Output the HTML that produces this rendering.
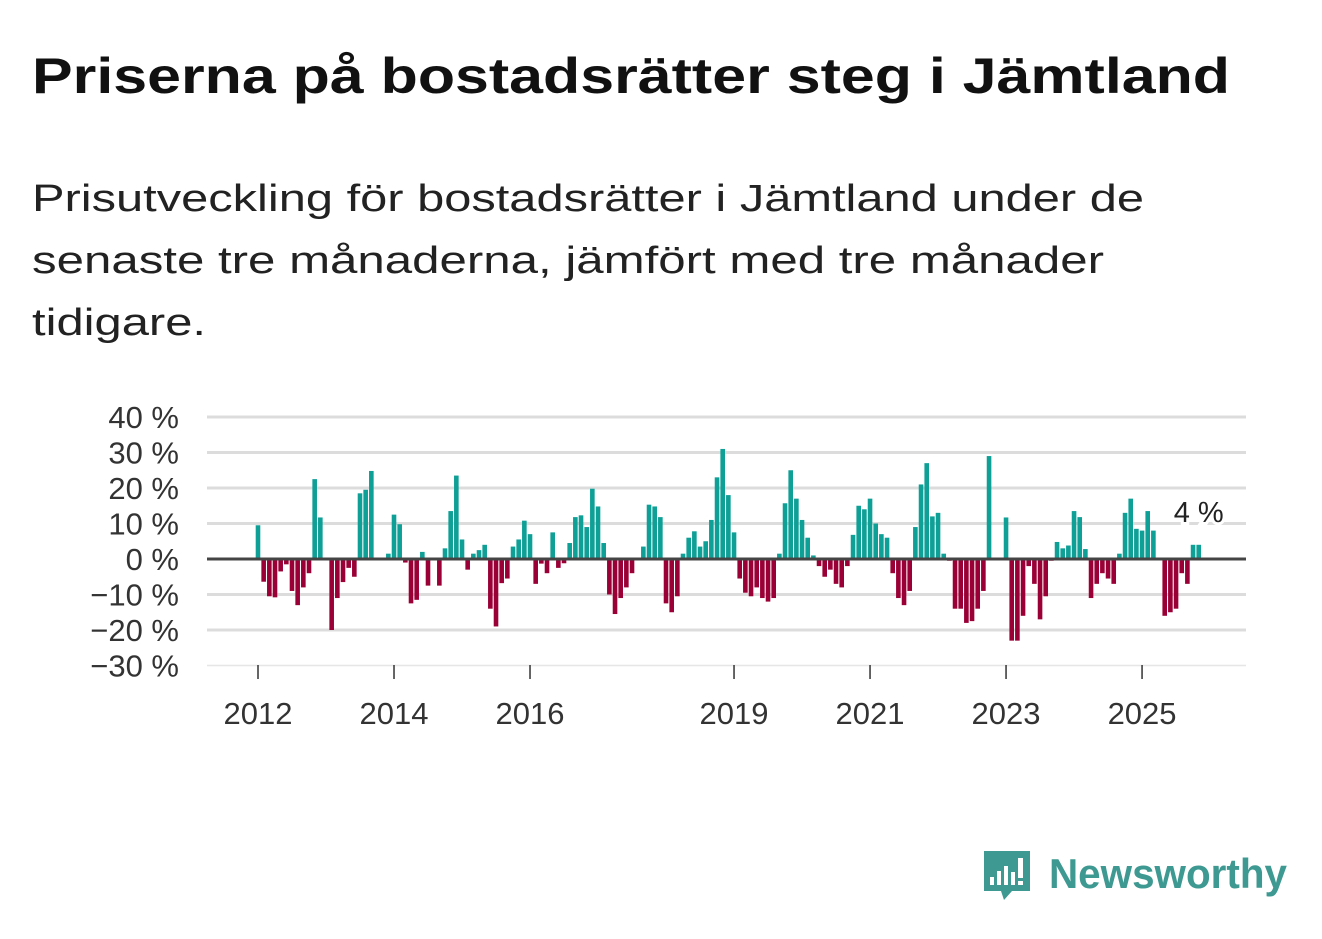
<!DOCTYPE html>
<html><head><meta charset="utf-8">
<style>
html,body{margin:0;padding:0;background:#fff;}
svg{display:block;font-family:"Liberation Sans",sans-serif;}
</style></head>
<body>
<svg id="chart" width="1322" height="939" viewBox="0 0 1322 939" xmlns="http://www.w3.org/2000/svg">
<text x="32" y="93" font-size="50" font-weight="bold" fill="#111" textLength="1198" lengthAdjust="spacingAndGlyphs">Priserna på bostadsrätter steg i Jämtland</text>
<g font-size="38" fill="#222">
<text x="32" y="211" textLength="1112" lengthAdjust="spacingAndGlyphs">Prisutveckling för bostadsrätter i Jämtland under de</text>
<text x="32" y="273" textLength="1072" lengthAdjust="spacingAndGlyphs">senaste tre månaderna, jämfört med tre månader</text>
<text x="32" y="335" textLength="174" lengthAdjust="spacingAndGlyphs">tidigare.</text>
</g>
<g id="grid"></g>
<g id="yticks"></g>
<g id="bars"></g>
<g id="xticks"></g>
<g id="annot"></g>
<g>
<path d="M984 851 h46 v40 h-18 l-8 9 l-3 -9 h-17 z" fill="#3d9991"/>
<rect x="990" y="877" width="4" height="8" fill="#fff"/>
<rect x="997" y="871" width="4" height="14" fill="#fff"/>
<rect x="1004" y="866" width="4" height="19" fill="#fff"/>
<rect x="1011" y="872" width="4" height="13" fill="#fff"/>
<rect x="1018" y="858" width="5" height="20" fill="#fff"/>
<rect x="1018" y="881" width="5" height="4" fill="#fff"/>
<text x="1049" y="888" font-size="42" font-weight="bold" fill="#3d9991" textLength="238" lengthAdjust="spacingAndGlyphs">Newsworthy</text>
</g>
</svg>
<script>
const values = [9.5,-6.4,-10.5,-10.8,-3.5,-1.5,-9,-13,-8,-4,22.5,11.7,
0,-20,-11,-6.5,-2.5,-5,18.5,19.5,24.8,0,0.3,1.5,
12.5,9.8,-1,-12.5,-11.5,2,-7.5,0.3,-7.5,3,13.5,23.5,
5.5,-3,1.5,2.5,4,-14,-19,-6.8,-5.5,3.5,5.5,10.8,
7,-7,-1.3,-4,7.5,-2.5,-1.2,4.5,11.8,12.3,9,19.8,
14.8,4.5,-10,-15.5,-11,-8,-4,0,3.5,15.3,14.8,11.8,
-12.5,-15,-10.5,1.5,6,7.8,3.5,5,11,23,31,18,
7.5,-5.5,-9.5,-10.5,-8,-11,-12,-11,1.5,15.7,25,17,
11,6,1,-2,-5,-3,-7,-8,-2,6.8,15,14,
17,10,7,6,-4,-11,-13,-9,9,21,27,12,
13,1.5,-0.5,-14,-14,-18,-17.5,-14,-9,29,0,0,
11.7,-23,-23,-16,-2,-7,-17,-10.5,-0.5,4.8,3,3.8,
13.5,11.8,2.8,-11,-7,-4,-5.5,-7,1.5,13,17,8.5,
8,13.5,8,0,-16,-15,-14,-4,-7,4,4];
const startYear = 2012;
const yTicks = [40,30,20,10,0,-10,-20,-30];
const xTickYears = [2012,2014,2016,2019,2021,2023,2025];
const lastLabel = "4 %";

const NS="http://www.w3.org/2000/svg";
function y(v){return 559 - v*3.55;}
function x(i){return 258 + i*5.667;}
function xYear(yr){return x((yr-startYear)*12);}
function el(tag,attrs,parent){const e=document.createElementNS(NS,tag);for(const k in attrs)e.setAttribute(k,attrs[k]);parent.appendChild(e);return e;}
const grid=document.getElementById('grid'),yt=document.getElementById('yticks'),bars=document.getElementById('bars'),xt=document.getElementById('xticks'),an=document.getElementById('annot');
yTicks.forEach(t=>{
  if(t!==0){const l=el('line',{x1:207,x2:1246,y1:y(t),y2:y(t),stroke:t===-30?'#e6e6e6':'#dcdcdc','stroke-width':t===-30?1.5:3},grid);
  
  }
  const tx=el('text',{x:179,y:y(t)+11,'font-size':31,fill:'#333','text-anchor':'end'},yt);
  
  
  tx.textContent=(t<0?'\u2212'+(-t):t)+' %';
});
values.forEach((v,i)=>{
  if(v===0)return;
  const r=el('rect',{x:x(i)-2.3,width:4.6,y:Math.min(y(v),559),height:Math.abs(y(v)-559),fill:v>0?'#0e9f96':'#9a0036'},bars);
  
  
});
const zl=el('line',{x1:207,x2:1246,y1:559,y2:559,stroke:'#444','stroke-width':3},bars);


xTickYears.forEach(yr=>{
  const tk=el('line',{x1:xYear(yr),x2:xYear(yr),y1:665,y2:679,stroke:'#333','stroke-width':1.5},xt);
  
  
  const tx=el('text',{x:xYear(yr),y:724,'font-size':31,fill:'#333','text-anchor':'middle'},xt);
  
  
  tx.textContent=yr;
});
const li=values.length-1;
const lt=el('text',{x:x(li),y:y(values[li])-35+12,'font-size':29,fill:'#222','text-anchor':'middle',stroke:'#fff','stroke-width':6,'paint-order':'stroke'},an);


lt.textContent=lastLabel;
</script>
</body></html>
